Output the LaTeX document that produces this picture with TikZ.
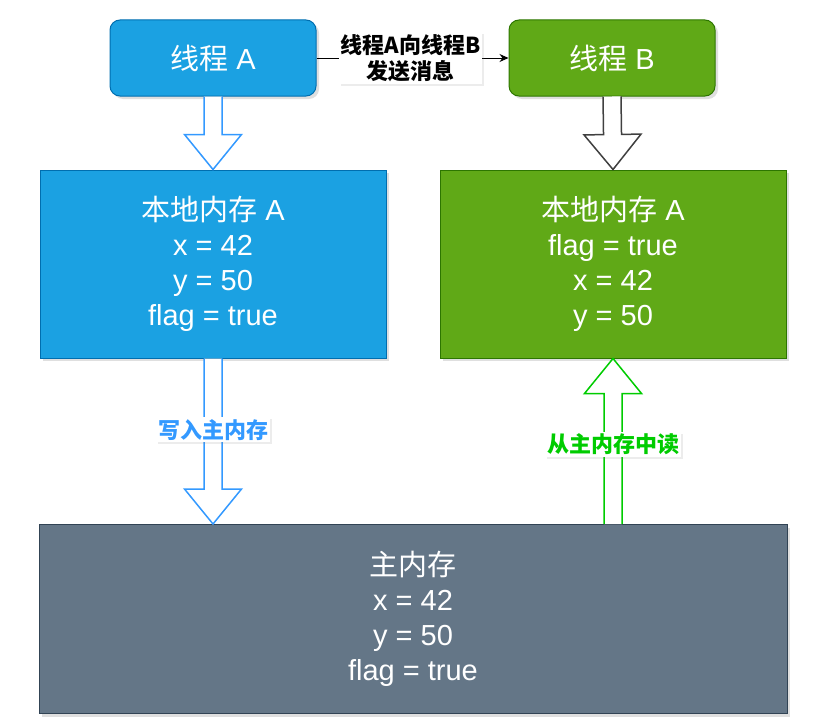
\documentclass[tikz,border=0pt]{standalone}
\usepackage{fontspec}
\setmainfont{Liberation Sans}
\newfontfamily\cjk{Noto Sans CJK SC}
\usetikzlibrary{arrows.meta,calc,positioning,shadows}
\definecolor{threadblue}{HTML}{1BA1E2}
\definecolor{threadblueline}{HTML}{006EAF}
\definecolor{threadgreen}{HTML}{60A917}
\definecolor{threadgreenline}{HTML}{2D7600}
\definecolor{mainmem}{HTML}{647687}
\definecolor{mainmemline}{HTML}{314354}
\definecolor{writeblue}{HTML}{3399FF}
\definecolor{readgreen}{HTML}{00CC00}

\tikzset{
  boxshadow/.style={drop shadow={opacity=0.25,shadow xshift=3pt,shadow yshift=-3pt}},
  threadbox/.style={rectangle, rounded corners=10pt, line width=1pt, text=white,
    minimum width=206pt, minimum height=76pt, font=\fontsize{29}{35}\selectfont, boxshadow},
  membox/.style={rectangle, line width=1pt, text=white, align=center,
    font=\fontsize{29}{35}\selectfont, boxshadow},
  arrowlabel/.style={fill=white, inner sep=2pt, align=center,
    font=\cjk\bfseries\fontsize{22}{26}\selectfont,
    drop shadow={opacity=0.15,shadow xshift=2pt,shadow yshift=-2pt}}
}

% hollow block arrow: style, from, to
\newcommand{\hollowarrow}[3]{%
  \coordinate (hs) at (#2);
  \coordinate (he) at (#3);
  \coordinate (hh) at ($(he)!35pt!(hs)$);
  \filldraw[#1, fill=white, line width=1.5pt, line join=miter]
    ($(hs)!9pt!90:(he)$) -- ($(hh)!9pt!-90:(hs)$) -- ($(hh)!28.5pt!-90:(hs)$) -- (he)
    -- ($(hh)!28.5pt!90:(hs)$) -- ($(hh)!9pt!90:(hs)$) -- ($(hs)!9pt!-90:(he)$);
}

\begin{document}
\begin{tikzpicture}[x=1pt,y=-1pt]
  \useasboundingbox (0,0) rectangle (818,725);

  % Threads
  \node[threadbox, fill=threadblue, draw=threadblueline] (tA) at (213,58) {{\cjk 线程} A};
  \node[threadbox, fill=threadgreen, draw=threadgreenline] (tB) at (612,58) {{\cjk 线程} B};

  % Local memories
  \node[membox, fill=threadblue, draw=threadblueline,
    minimum width=346pt, minimum height=188pt] (lA) at (213,264)
    {{\cjk 本地内存} A\\x = 42\\y = 50\\flag = true};
  \node[membox, fill=threadgreen, draw=threadgreenline,
    minimum width=346pt, minimum height=188pt] (lB) at (613,264)
    {{\cjk 本地内存} A\\flag = true\\x = 42\\y = 50};

  % Main memory
  \node[membox, fill=mainmem, draw=mainmemline,
    minimum width=748pt, minimum height=189pt] (main) at (413,619)
    {{\cjk 主内存}\\x = 42\\y = 50\\flag = true};

  % Message from A to B
  \draw[line width=1pt, -{Stealth[length=9pt,width=8pt]}] (tA) -- (tB)
    node[arrowlabel, midway, xshift=-2pt] (msg) {线程A向线程B\\发送消息};

  % Block arrows
  \hollowarrow{writeblue}{tA.south}{lA.north}
  \hollowarrow{black!75}{tB.south}{lB.north}
  \hollowarrow{writeblue}{lA.south}{lA.south |- main.north}
  \hollowarrow{readgreen}{lB.south |- main.north}{lB.south}

  % Arrow labels
  \node[arrowlabel, text=writeblue] (wr) at ($(lA.south)!0.43!(lA.south |- main.north)$) {写入主内存};
  \node[arrowlabel, text=readgreen] (rd) at ($(lB.south)!0.52!(lB.south |- main.north)$) {从主内存中读};
\end{tikzpicture}
\end{document}
